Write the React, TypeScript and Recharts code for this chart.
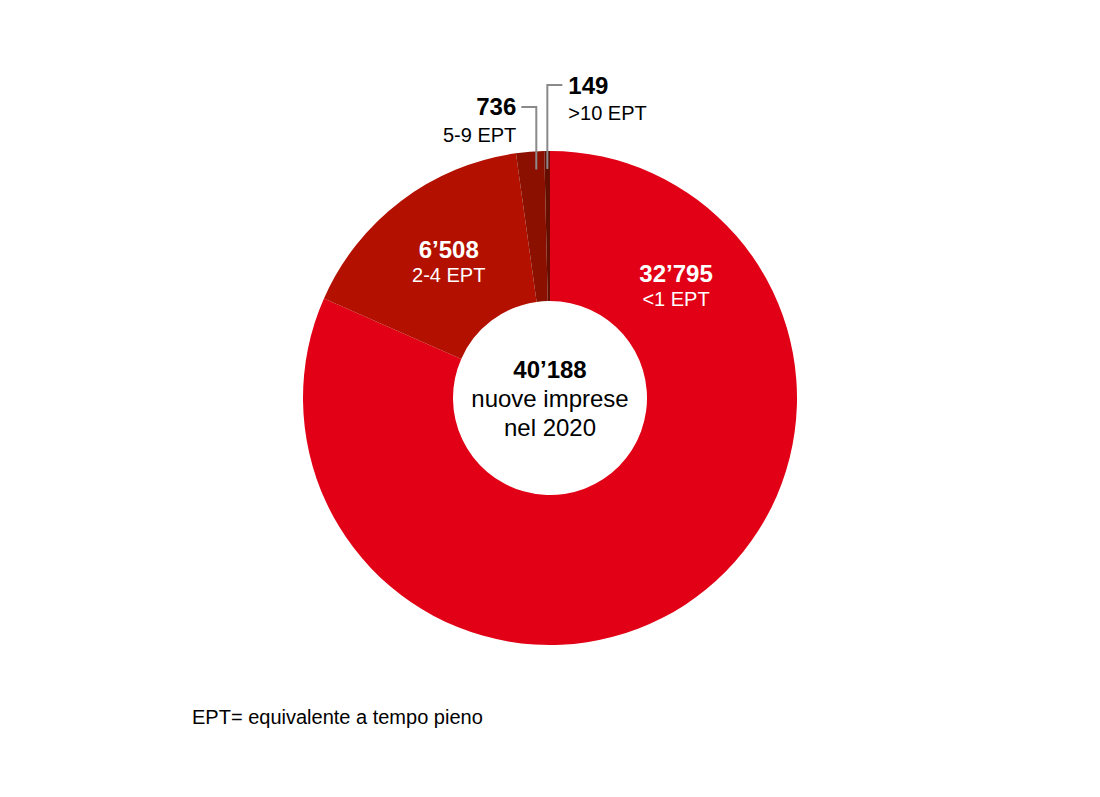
import { PieChart, Pie, Cell } from 'recharts';

const categories = ['<1 EPT', '2-4 EPT', '5-9 EPT', '>10 EPT'];
const values = [32795, 6508, 736, 149];
const valueLabels = ['32’795', '6’508', '736', '149'];
const COLORS = ['#e10016', '#b31000', '#8c1000', '#650e00'];

const totalLabel = '40’188';
const centerLines = ['nuove imprese', 'nel 2020'];
const footnote = 'EPT= equivalente a tempo pieno';

const data = categories.map((name, i) => ({ name, value: values[i] }));

const RAD = Math.PI / 180;
const FONT = '"Liberation Sans", Arial, Helvetica, sans-serif';

const renderLabel = (props: any) => {
  const { cx, cy, midAngle, index } = props;
  if (index < 2) {
    // inside labels, the big slice's label sits at a fixed angle
    const angle = index === 0 ? 41 : midAngle;
    const r = index === 0 ? 167 : 168;
    const x = cx + r * Math.cos(angle * RAD);
    const y = cy - r * Math.sin(angle * RAD);
    return (
      <g key={`lbl-${index}`}>
        <text x={x} y={y - 6} textAnchor="middle" fill="#fff" fontFamily={FONT} fontSize={24} fontWeight="bold">
          {valueLabels[index]}
        </text>
        <text x={x} y={y + 18} textAnchor="middle" fill="#fff" fontFamily={FONT} fontSize={20}>
          {categories[index]}
        </text>
      </g>
    );
  }
  const left = index === 2;
  const angle = left ? midAngle - 1.2 : midAngle;
  const startR = 229;
  const x0 = cx + startR * Math.cos(angle * RAD);
  const y0 = cy - startR * Math.sin(angle * RAD);
  const topY = left ? cy - 291 : cy - 313;
  const x1 = left ? x0 - 15 : x0 + 15;
  const tx = left ? x1 - 5 : x1 + 6;
  const anchor = left ? 'end' : 'start';
  return (
    <g key={`lbl-${index}`}>
      <polyline points={`${x0},${y0} ${x0},${topY} ${x1},${topY}`} fill="none" stroke="#8a8a8a" strokeWidth={2} />
      <text x={tx} y={topY + (left ? 8 : 9)} textAnchor={anchor} fill="#000" fontFamily={FONT} fontSize={24} fontWeight="bold">
        {valueLabels[index]}
      </text>
      <text x={tx} y={topY + 35} textAnchor={anchor} fill="#000" fontFamily={FONT} fontSize={20}>
        {categories[index]}
      </text>
    </g>
  );
};

const App = () => {
  return (
    <div style={{ position: 'absolute', left: 0, top: 0, width: 1100, height: 797, background: '#fff' }}>
      <PieChart width={1100} height={797} margin={{ top: 0, right: 0, bottom: 0, left: 0 }}>
        <Pie
          data={data}
          dataKey="value"
          cx={550}
          cy={398}
          innerRadius={97}
          outerRadius={247}
          startAngle={90}
          endAngle={-270}
          stroke="none"
          labelLine={false}
          label={renderLabel}
          isAnimationActive={false}
        >
          {data.map((_entry, index) => (
            <Cell key={`cell-${index}`} fill={COLORS[index % COLORS.length]} />
          ))}
        </Pie>
        <text x={550} y={378} textAnchor="middle" fill="#000" fontFamily={FONT} fontSize={24} fontWeight="bold">
          {totalLabel}
        </text>
        {centerLines.map((line, i) => (
          <text key={line} x={550} y={407 + i * 29} textAnchor="middle" fill="#000" fontFamily={FONT} fontSize={24}>
            {line}
          </text>
        ))}
        <text x={192} y={724} fill="#000" fontFamily={FONT} fontSize={20}>
          {footnote}
        </text>
      </PieChart>
    </div>
  );
};

export default App;
